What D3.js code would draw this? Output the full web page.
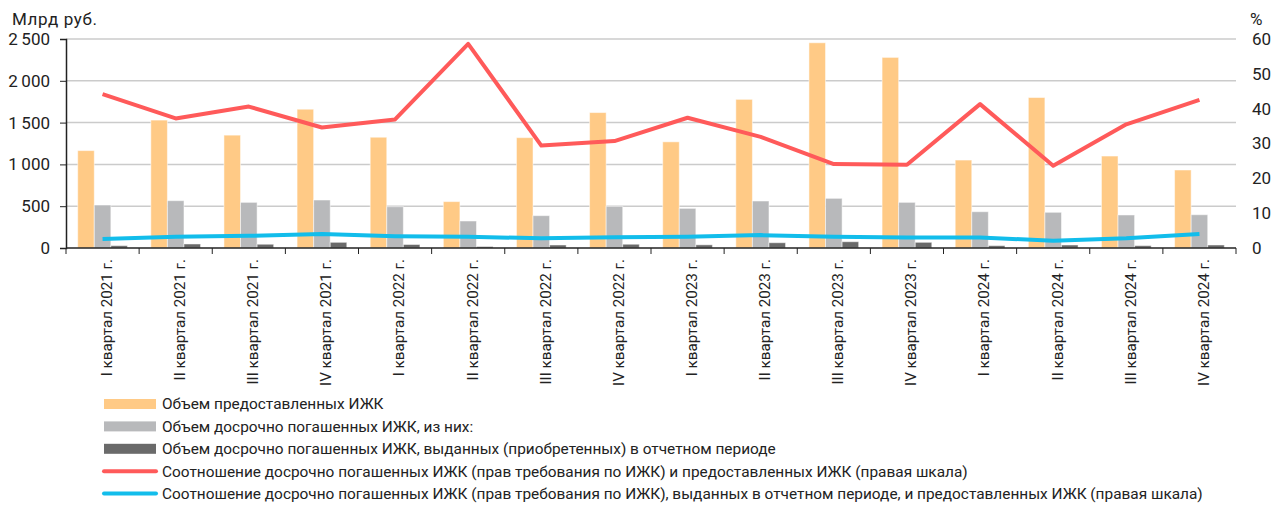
<!DOCTYPE html>
<html>
<head>
<meta charset="utf-8">
<script src="https://cdn.jsdelivr.net/npm/d3@7"></script>
<style>
  body { margin: 0; background: #fff; }
  text { font-family: Roboto, "Noto Sans", sans-serif; fill: #222; }
  .grid line { stroke: #cbcbcb; stroke-width: 1.5; }
</style>
</head>
<body>
<script>
const categories = [
  "I квартал 2021 г.", "II квартал 2021 г.", "III квартал 2021 г.", "IV квартал 2021 г.",
  "I квартал 2022 г.", "II квартал 2022 г.", "III квартал 2022 г.", "IV квартал 2022 г.",
  "I квартал 2023 г.", "II квартал 2023 г.", "III квартал 2023 г.", "IV квартал 2023 г.",
  "I квартал 2024 г.", "II квартал 2024 г.", "III квартал 2024 г.", "IV квартал 2024 г."
];
const issued = [1165, 1530, 1350, 1660, 1325, 555, 1320, 1620, 1270, 1778, 2455, 2280, 1052, 1800, 1100, 933];
const prepaid = [514, 566, 546, 574, 494, 323, 387, 498, 474, 562, 594, 546, 434, 427, 395, 398];
const prepaidSamePeriod = [28, 48, 45, 68, 42, 18, 36, 45, 38, 63, 75, 68, 28, 36, 28, 36];
const ratioAll = [44.2, 37.2, 40.6, 34.6, 36.9, 58.6, 29.4, 30.7, 37.4, 31.9, 24.1, 23.9, 41.3, 23.6, 35.5, 42.5];
const ratioSame = [2.6, 3.2, 3.5, 4.0, 3.4, 3.2, 2.8, 3.1, 3.2, 3.7, 3.2, 3.0, 3.0, 2.1, 2.8, 4.0];
const leftTicks = [0, 500, 1000, 1500, 2000, 2500];
const rightTicks = [0, 10, 20, 30, 40, 50, 60];

const legendItems = [
  { label: "Объем предоставленных ИЖК", color: "#ffca86", type: "rect" },
  { label: "Объем досрочно погашенных ИЖК, из них:", color: "#b8b9bb", type: "rect" },
  { label: "Объем досрочно погашенных ИЖК, выданных (приобретенных) в отчетном периоде", color: "#6a6a6a", type: "rect" },
  { label: "Соотношение досрочно погашенных ИЖК (прав требования по ИЖК) и предоставленных ИЖК (правая шкала)", color: "#ff5a5a", type: "line" },
  { label: "Соотношение досрочно погашенных ИЖК (прав требования по ИЖК), выданных в отчетном периоде, и предоставленных ИЖК (правая шкала)", color: "#12bdeb", type: "line" }
];

const width = 1276, height = 507;
const margin = { left: 66, right: 40, top: 39, bottom: 259 };

const svg = d3.select("body").append("svg")
  .attr("width", width)
  .attr("height", height);

const x = d3.scaleBand()
  .domain(categories)
  .range([margin.left, width - margin.right])
  .paddingInner(0)
  .paddingOuter(0);

const groupInset = x.bandwidth() * 0.16;
const xSub = d3.scaleBand()
  .domain([0, 1, 2])
  .range([groupInset, x.bandwidth() - groupInset]);

const yL = d3.scaleLinear().domain([0, 2500]).range([height - margin.bottom, margin.top]);
const yR = d3.scaleLinear().domain([0, 60]).range([height - margin.bottom, margin.top]);

// gridlines
svg.append("g")
  .attr("class", "grid")
  .selectAll("line")
  .data(leftTicks.slice(1))
  .join("line")
  .attr("x1", margin.left)
  .attr("x2", width - margin.right)
  .attr("y1", (d) => yL(d))
  .attr("y2", (d) => yL(d));

// bars
const seriesBars = [issued, prepaid, prepaidSamePeriod];
const barColors = ["#ffca86", "#b8b9bb", "#6a6a6a"];
seriesBars.forEach((vals, s) => {
  svg.append("g")
    .selectAll("rect")
    .data(vals)
    .join("rect")
    .attr("x", (d, i) => x(categories[i]) + xSub(s))
    .attr("width", xSub.bandwidth())
    .attr("y", (d) => yL(d))
    .attr("height", (d) => yL(0) - yL(d))
    .attr("fill", barColors[s])
    .attr("stroke", "#fff")
    .attr("stroke-opacity", 0.5)
    .attr("stroke-width", 1);
});

// lines
const line = d3.line()
  .x((d, i) => x(categories[i]) + x.bandwidth() / 2)
  .y((d) => yR(d));

svg.append("path")
  .datum(ratioSame)
  .attr("fill", "none")
  .attr("stroke", "#12bdeb")
  .attr("stroke-width", 4)
  .attr("stroke-linejoin", "round")
  .attr("d", line);

svg.append("path")
  .datum(ratioAll)
  .attr("fill", "none")
  .attr("stroke", "#ff5a5a")
  .attr("stroke-width", 4)
  .attr("stroke-linejoin", "round")
  .attr("d", line);

// left axis
const axisL = svg.append("g")
  .attr("transform", `translate(${margin.left},0)`)
  .call(d3.axisLeft(yL).tickValues(leftTicks).tickSize(6).tickPadding(10)
    .tickFormat((d) => d3.format(",")(d).replace(",", "\u2009")));
axisL.select(".domain").attr("stroke", "#222").attr("stroke-width", 1.5);
axisL.selectAll(".tick line").attr("stroke", "#222");
axisL.selectAll("text").attr("font-size", 17).attr("fill", "#222");

// right axis (labels only)
const axisR = svg.append("g")
  .attr("transform", `translate(${width - margin.right},0)`)
  .call(d3.axisRight(yR).tickValues(rightTicks).tickSize(0).tickPadding(16));
axisR.select(".domain").remove();
axisR.selectAll("text").attr("font-size", 17).attr("fill", "#222");

// bottom axis
const axisB = svg.append("g")
  .attr("transform", `translate(0,${yL(0)})`);
axisB.append("line")
  .attr("x1", margin.left)
  .attr("x2", width - margin.right)
  .attr("stroke", "#222")
  .attr("stroke-width", 1.5);
axisB.selectAll(".tk")
  .data(categories.concat([null]))
  .join("line")
  .attr("class", "tk")
  .attr("x1", (d, i) => margin.left + i * x.step())
  .attr("x2", (d, i) => margin.left + i * x.step())
  .attr("y1", 0)
  .attr("y2", 6)
  .attr("stroke", "#222");
axisB.selectAll("text")
  .data(categories)
  .join("text")
  .attr("transform", (d) => `translate(${x(d) + x.bandwidth() / 2 + 4},11) rotate(-90)`)
  .attr("text-anchor", "end")
  .attr("dy", "0.35em")
  .attr("font-size", 15.2)
  .text((d) => d);

// axis titles
svg.append("text").attr("x", 12).attr("y", 25).attr("font-size", 17).attr("letter-spacing", 0.6).text("Млрд руб.");
svg.append("text").attr("x", 1250).attr("y", 25).attr("font-size", 17).text("%");

// legend
const legend = svg.append("g").attr("transform", "translate(104,404)");
legendItems.forEach((item, i) => {
  const g = legend.append("g").attr("transform", `translate(0,${i * 22.4})`);
  if (item.type === "rect") {
    g.append("rect").attr("x", 0).attr("y", -5).attr("width", 52).attr("height", 10).attr("fill", item.color);
  } else {
    g.append("line").attr("x1", 0).attr("x2", 52).attr("stroke", item.color)
      .attr("stroke-width", 4).attr("stroke-linecap", "round");
  }
  g.append("text").attr("x", 58).attr("dy", "0.35em").attr("font-size", 15.4).text(item.label);
});
</script>
</body>
</html>
